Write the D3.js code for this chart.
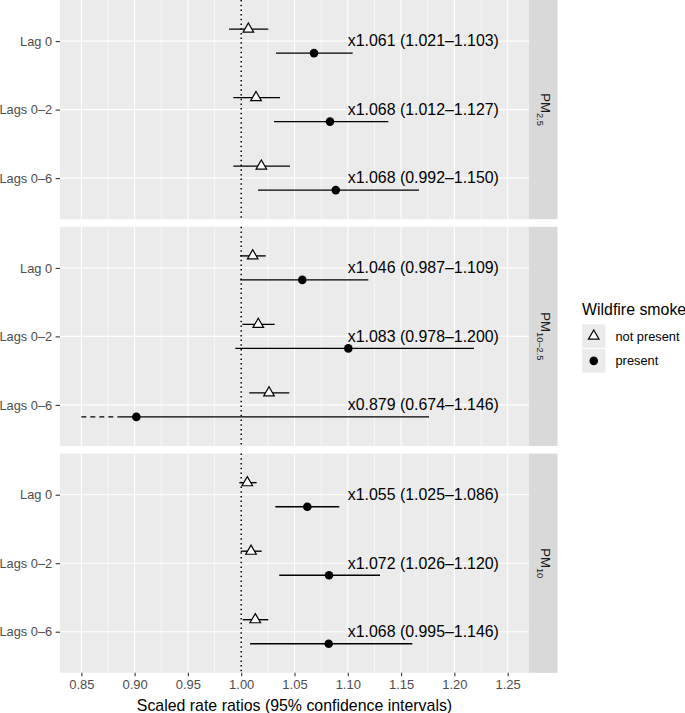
<!DOCTYPE html>
<html>
<head>
<meta charset="utf-8">
<script src="https://cdn.jsdelivr.net/npm/d3@7"></script>
<style>
  body { margin: 0; background: #ffffff; }
  svg { display: block; }
  text { font-family: "Liberation Sans", Arial, Helvetica, sans-serif; }
</style>
</head>
<body>
<svg id="chart" width="685" height="713"></svg>
<script>
// ---------------- DATA ----------------
const panels = ["PM2.5", "PM10–2.5", "PM10"];
const panelMain = ["PM", "PM", "PM"];
const panelSub = ["2.5", "10–2.5", "10"];
const lags = ["Lag 0", "Lags 0–2", "Lags 0–6"];
const smokeGroups = ["not present", "present"];
const xTicks = [0.85, 0.90, 0.95, 1.00, 1.05, 1.10, 1.15, 1.20, 1.25];

// not present (triangles): [panel][lag]
const npEst = [[1.0067, 1.0139, 1.0189], [1.0108, 1.0160, 1.0261], [1.0057, 1.0092, 1.0132]];
const npLow = [[0.9886, 0.9926, 0.9926], [0.9989, 1.0010, 1.0076], [0.9982, 0.9995, 1.0014]];
const npHigh = [[1.0254, 1.0364, 1.0458], [1.0230, 1.0314, 1.0451], [1.0145, 1.0192, 1.0254]];

// present (points): [panel][lag]
const pEst = [[1.0683, 1.0833, 1.0887], [1.0573, 1.1005, 0.9016], [1.0620, 1.0824, 1.0821]];
const pLow = [[1.0326, 1.0308, 1.0158], [0.9989, 0.9945, 0.8847], [1.0320, 1.0357, 1.0083]];
const pHigh = [[1.1046, 1.1380, 1.1668], [1.1192, 1.2184, 1.1762], [1.0920, 1.1302, 1.1605]];
// truncated lower interval (drawn dashed down to the axis limit)
const pTrunc = [[null, null, null], [null, null, 0.85], [null, null, null]];

const valueLabels = [
  ["x1.061 (1.021–1.103)", "x1.068 (1.012–1.127)", "x1.068 (0.992–1.150)"],
  ["x1.046 (0.987–1.109)", "x1.083 (0.978–1.200)", "x0.879 (0.674–1.146)"],
  ["x1.055 (1.025–1.086)", "x1.072 (1.026–1.120)", "x1.068 (0.995–1.146)"]
];
const labelX = 1.10;
const xTitle = "Scaled rate ratios (95% confidence intervals)";
const legendTitle = "Wildfire smoke";

// ---------------- LAYOUT ----------------
const svg = d3.select("#chart");
const panelLeft = 60, panelRight = 529, stripW = 28.5;
const panelH = 219.2, panelGap = 7.6, panelTop0 = 0;
const x = d3.scaleLinear().domain([0.83, 1.27]).range([panelLeft, panelRight]);
const dodge = 12;
const gridMinor = d3.range(0.875, 1.27, 0.05);
const lw = 1.35;

const triPath = (cx, cy) => {
  const s = 10.6, h = s * Math.sqrt(3) / 2;
  return `M${cx},${cy - h * 2 / 3}L${cx + s / 2},${cy + h / 3}L${cx - s / 2},${cy + h / 3}Z`;
};

panels.forEach((pn, pi) => {
  const top = panelTop0 + pi * (panelH + panelGap);
  const y = d3.scalePoint().domain(lags).range([top, top + panelH]).padding(0.6);
  const g = svg.append("g");

  g.append("rect").attr("x", panelLeft).attr("y", top).attr("width", panelRight - panelLeft)
    .attr("height", panelH).attr("fill", "#ebebeb");
  gridMinor.forEach(v => {
    g.append("line").attr("x1", x(v)).attr("x2", x(v)).attr("y1", top).attr("y2", top + panelH)
      .attr("stroke", "#ffffff").attr("stroke-width", 0.6);
  });
  xTicks.forEach(v => {
    g.append("line").attr("x1", x(v)).attr("x2", x(v)).attr("y1", top).attr("y2", top + panelH)
      .attr("stroke", "#ffffff").attr("stroke-width", 1.1);
  });
  lags.forEach(l => {
    g.append("line").attr("x1", panelLeft).attr("x2", panelRight).attr("y1", y(l)).attr("y2", y(l))
      .attr("stroke", "#ffffff").attr("stroke-width", 1.1);
  });
  // reference line
  g.append("line").attr("x1", x(1)).attr("x2", x(1)).attr("y1", top).attr("y2", top + panelH)
    .attr("stroke", "#000").attr("stroke-width", 1.5).attr("stroke-dasharray", "1.5,3.2");

  // y axis
  const yAxis = d3.axisLeft(y).tickSize(4.4).tickPadding(3.5);
  const ya = svg.append("g").attr("transform", `translate(${panelLeft},0)`).call(yAxis);
  ya.select(".domain").remove();
  ya.selectAll(".tick line").attr("stroke", "#333333").attr("stroke-width", 1.1);
  ya.selectAll(".tick text").attr("fill", "#4d4d4d").style("font-size", "12.8px")
    .style("font-family", "'Liberation Sans', Arial, sans-serif");

  // strip
  g.append("rect").attr("x", panelRight).attr("y", top).attr("width", stripW).attr("height", panelH)
    .attr("fill", "#d9d9d9");
  const st = g.append("text")
    .attr("transform", `translate(${panelRight + 11.5},${top + panelH / 2}) rotate(90)`)
    .attr("text-anchor", "middle").attr("fill", "#1a1a1a").style("font-size", "13.2px");
  st.append("tspan").text(panelMain[pi]);
  st.append("tspan").text(panelSub[pi]).attr("dy", 4).style("font-size", "9.3px");

  lags.forEach((l, li) => {
    const cy = y(l);
    const yt = cy - dodge;
    g.append("line").attr("x1", x(npLow[pi][li])).attr("x2", x(npHigh[pi][li]))
      .attr("y1", yt).attr("y2", yt).attr("stroke", "#000").attr("stroke-width", lw);
    g.append("path").attr("d", triPath(x(npEst[pi][li]), yt))
      .attr("fill", "#ffffff").attr("stroke", "#000").attr("stroke-width", 1.2);
    const yp = cy + dodge;
    g.append("line").attr("x1", x(pLow[pi][li])).attr("x2", x(pHigh[pi][li]))
      .attr("y1", yp).attr("y2", yp).attr("stroke", "#000").attr("stroke-width", lw);
    if (pTrunc[pi][li] !== null) {
      g.append("line").attr("x1", x(pTrunc[pi][li])).attr("x2", x(pLow[pi][li]))
        .attr("y1", yp).attr("y2", yp).attr("stroke", "#000").attr("stroke-width", lw)
        .attr("stroke-dasharray", "5,4");
    }
    g.append("circle").attr("cx", x(pEst[pi][li])).attr("cy", yp).attr("r", 4.3).attr("fill", "#000");
    g.append("text").attr("x", x(labelX)).attr("y", cy + 5.3).attr("fill", "#000")
      .style("font-size", "15.9px").text(valueLabels[pi][li]);
  });
});

// x axis
const bottom = panelTop0 + 3 * panelH + 2 * panelGap;
const xAxis = d3.axisBottom(x).tickValues(xTicks).tickFormat(d3.format(".2f")).tickSize(3.5).tickPadding(3);
const xa = svg.append("g").attr("transform", `translate(0,${bottom})`).call(xAxis);
xa.select(".domain").remove();
xa.selectAll(".tick line").attr("stroke", "#333333").attr("stroke-width", 1.1);
xa.selectAll(".tick text").attr("fill", "#4d4d4d").style("font-size", "13px")
  .style("font-family", "'Liberation Sans', Arial, sans-serif");

svg.append("text").attr("x", (panelLeft + panelRight) / 2).attr("y", 710.5)
  .attr("text-anchor", "middle").attr("fill", "#000").style("font-size", "15.9px").text(xTitle);

// legend
const lg = svg.append("g");
lg.append("text").attr("x", 582).attr("y", 314.5).attr("fill", "#000").style("font-size", "15.9px")
  .text(legendTitle);
smokeGroups.forEach((s, i) => {
  const ky = 324.3 + i * 24.8;
  lg.append("rect").attr("x", 582).attr("y", ky).attr("width", 23.5).attr("height", 23.5).attr("fill", "#ebebeb");
  const cx = 582 + 11.75, cy = ky + 11.75;
  if (i === 0) {
    lg.append("path").attr("d", triPath(cx, cy)).attr("fill", "#ffffff").attr("stroke", "#000").attr("stroke-width", 1.2);
  } else {
    lg.append("circle").attr("cx", cx).attr("cy", cy).attr("r", 4.3).attr("fill", "#000");
  }
  lg.append("text").attr("x", 615.5).attr("y", cy + 4.5).attr("fill", "#000").style("font-size", "12.8px").text(s);
});
</script>
</body>
</html>
